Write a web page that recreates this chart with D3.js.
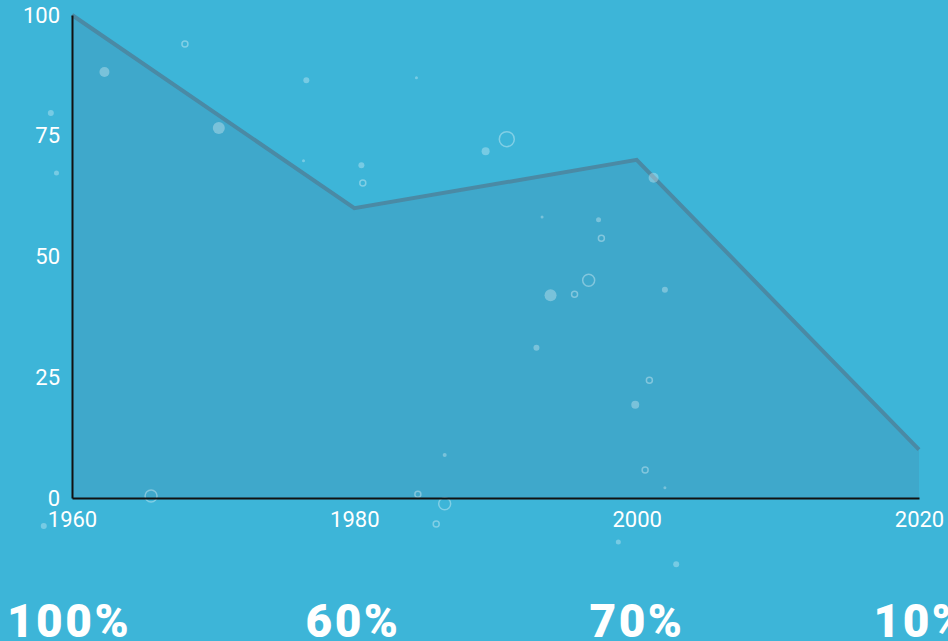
<!DOCTYPE html>
<html>
<head>
<meta charset="utf-8">
<script src="https://cdn.jsdelivr.net/npm/d3@7"></script>
<style>
  html, body { margin: 0; padding: 0; background: #3db5d8; overflow: hidden; }
  svg { display: block; }
  .tick-label { font-family: Roboto, sans-serif; font-size: 22px; fill: #ffffff; }
  .pct-label { font-family: Roboto, sans-serif; font-weight: 900; font-size: 46px; letter-spacing: 2.5px; fill: #ffffff; }
</style>
</head>
<body>
<div id="chart"></div>
<script>
// data
var years = [1960, 1980, 2000, 2020];
var values = [100, 60, 70, 10];
var yTicks = [0, 25, 50, 75, 100];

// decorative bubbles, in data units (year, value, radius px)
var dotYears = [1962.3, 1970.4, 1958.5, 1958.9, 1976.6, 1976.4, 1980.5, 1984.4, 1989.3, 1993.3, 1997.3,
                1993.9, 1992.9, 2002.0, 1999.9, 1986.4, 2002.0, 1998.7, 2002.8, 1958.0, 2001.2];
var dotValues = [88.2, 76.6, 79.7, 67.3, 86.5, 69.8, 68.9, 87.0, 71.8, 58.2, 57.6,
                 42.0, 31.1, 43.1, 19.3, 8.9, 2.1, -9.1, -13.7, -5.8, 66.3];
var dotSizes = [5, 6, 3, 2.5, 3, 1.5, 3, 1.5, 4, 1.5, 2.5,
                6, 3, 3, 4, 2, 1.5, 2.5, 3, 3, 5];

var ringYears = [1968.0, 1990.8, 1980.6, 1997.5, 1996.6, 1995.6, 2000.9, 2000.6, 1965.6, 1986.4, 1985.8, 1984.5];
var ringValues = [94.0, 74.3, 65.2, 53.8, 45.1, 42.2, 24.4, 5.8, 0.4, -1.2, -5.4, 0.8];
var ringSizes = [3, 7.5, 3, 3, 6, 3, 3, 3, 6, 6, 3, 3];

var width = 948, height = 641;
var margin = { top: 15, right: 29, bottom: 143, left: 72 };

var svg = d3.select("#chart").append("svg")
    .attr("width", width)
    .attr("height", height);

svg.append("rect")
    .attr("width", width)
    .attr("height", height)
    .attr("fill", "#3db5d8");

var x = d3.scaleLinear()
    .domain([1960, 2020])
    .range([margin.left, width - margin.right]);

var y = d3.scaleLinear()
    .domain([0, 100])
    .range([height - margin.bottom, margin.top]);

// the big labels sit in their own row, spaced a little wider than the ticks
var xLabel = d3.scalePoint()
    .domain(years)
    .range([69, 921]);

var pts = years.map(function (d, i) { return [d, values[i]]; });

// area under the line
var area = d3.area()
    .x(function (d) { return x(d[0]); })
    .y0(y(0))
    .y1(function (d) { return y(d[1]); });

svg.append("path")
    .datum(pts)
    .attr("d", area)
    .attr("fill", "#3fa8cb");

// the line itself
var line = d3.line()
    .x(function (d) { return x(d[0]); })
    .y(function (d) { return y(d[1]); });

svg.append("path")
    .datum(pts)
    .attr("d", line)
    .attr("fill", "none")
    .attr("stroke", "#4a8aa5")
    .attr("stroke-width", 4)
    .attr("stroke-linejoin", "miter");

// bubbles
var bubbles = svg.append("g");
bubbles.selectAll("circle.dot")
    .data(dotYears.map(function (d, i) { return [d, dotValues[i], dotSizes[i]]; }))
    .enter().append("circle")
    .attr("class", "dot")
    .attr("cx", function (d) { return x(d[0]); })
    .attr("cy", function (d) { return y(d[1]); })
    .attr("r", function (d) { return d[2]; })
    .attr("fill", "#ffffff")
    .attr("fill-opacity", 0.3);

bubbles.selectAll("circle.ring")
    .data(ringYears.map(function (d, i) { return [d, ringValues[i], ringSizes[i]]; }))
    .enter().append("circle")
    .attr("class", "ring")
    .attr("cx", function (d) { return x(d[0]); })
    .attr("cy", function (d) { return y(d[1]); })
    .attr("r", function (d) { return d[2]; })
    .attr("fill", "none")
    .attr("stroke", "#ffffff")
    .attr("stroke-opacity", 0.35)
    .attr("stroke-width", 1.5);

// axes
var xAxis = d3.axisBottom(x)
    .tickValues(years)
    .tickFormat(d3.format("d"))
    .tickSize(0)
    .tickPadding(13);

var yAxis = d3.axisLeft(y)
    .tickValues(yTicks)
    .tickSize(0)
    .tickPadding(12);

var gx = svg.append("g")
    .attr("transform", "translate(0," + y(0) + ")")
    .call(xAxis);
gx.select(".domain").attr("stroke", "#111").attr("stroke-width", 2);
gx.selectAll("text").attr("class", "tick-label").attr("fill", null);

var gy = svg.append("g")
    .attr("transform", "translate(" + x(1960) + ",0)")
    .call(yAxis);
gy.select(".domain").attr("stroke", "#111").attr("stroke-width", 2);
gy.selectAll("text").attr("class", "tick-label").attr("fill", null);

// big percentage labels under each year
svg.append("g").selectAll("text")
    .data(pts)
    .enter().append("text")
    .attr("class", "pct-label")
    .attr("x", function (d) { return xLabel(d[0]); })
    .attr("y", 637)
    .attr("text-anchor", "middle")
    .text(function (d) { return d[1] + "%"; });
</script>
</body>
</html>
